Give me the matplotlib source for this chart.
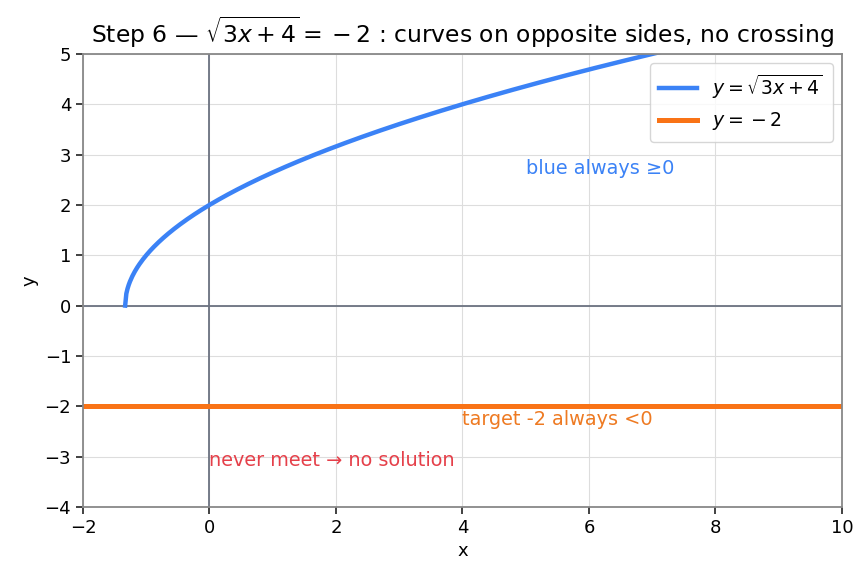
import numpy as np
import matplotlib.pyplot as plt

# curve domain and the constant target
x_start, x_end = -4/3, 10
target = -2
x_lim = [-2, 10]
y_lim = [-4, 5]

x = np.linspace(x_start, x_end, 600)
y = np.sqrt(np.clip(3*x + 4, 0, None))

fig, ax = plt.subplots(figsize=(8.68, 5.8), dpi=100)

ax.plot(x, y, color='#3b82f6', lw=3.2, label=r'$y=\sqrt{3x+4}$')
ax.axhline(target, color='#f97316', lw=3.6, label=r'$y = {}-2$')
ax.axhline(0, color='#6b7280', lw=1.3, zorder=1)
ax.axvline(0, color='#6b7280', lw=1.3, zorder=1)

ax.text(5, 2.72, 'blue always \u22650', color='#3b82f6', fontsize=13.9, va='center')
ax.text(4, -2.27, 'target -2 always <0', color='#ee7a22', fontsize=13.9, va='center')
ax.text(0, -3.08, 'never meet \u2192 no solution', color='#e5404a', fontsize=13.9, va='center')

ax.set_xlim(x_lim)
ax.set_ylim(y_lim)
ax.grid(True, color='#dddddd', lw=0.8)
ax.set_axisbelow(True)
for s in ax.spines.values():
    s.set_color('#888888')
    s.set_linewidth(1.3)
ax.tick_params(labelsize=13, color='#333333', width=1.3, length=5)
ax.set_xlabel('x', fontsize=13)
ax.set_ylabel('y', fontsize=13)
ax.set_title(r'Step 6 — $\sqrt{3x+4} = {}-2$ : curves on opposite sides, no crossing',
             fontsize=16.9, pad=8)
ax.legend(loc='upper right', fontsize=13.6, borderpad=0.5)

fig.subplots_adjust(left=0.0956, right=0.970, top=0.907, bottom=0.126)
fig.savefig('out.png')
